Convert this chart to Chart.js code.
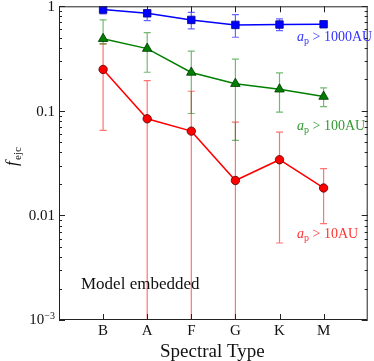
<!DOCTYPE html>
<html>
<head>
<meta charset="utf-8">
<script src="https://cdn.jsdelivr.net/npm/chart.js@4.4.0/dist/chart.umd.min.js"></script>
<style>
  html, body { margin: 0; padding: 0; background: #fff; }
  #wrap { width: 374px; height: 361px; }
</style>
</head>
<body>
<div id="wrap"><canvas id="myChart" width="374" height="361"></canvas></div>
<script>
// spectral types on the x axis
const types = ["B", "A", "F", "G", "K", "M"];
const yTicks = [1, 0.1, 0.01, 0.001];

// a_p > 1000 AU
const far = [0.93, 0.857, 0.741, 0.664, 0.669, 0.673];
const farHi = [0.978, 0.91, 0.876, 0.833, 0.758, 0.69];
const farLo = [0.846, 0.73, 0.608, 0.506, 0.586, 0.66];

// a_p > 100 AU
const mid = [0.489, 0.394, 0.233, 0.182, 0.161, 0.137];
const midHi = [0.741, 0.561, 0.372, 0.312, 0.231, 0.166];
const midLo = [0.437, 0.234, 0.0944, 0.0522, 0.0972, 0.110];

// a_p > 10 AU
const near = [0.249, 0.084, 0.064, 0.0216, 0.0341, 0.0183];
const nearHi = [0.437, 0.195, 0.154, 0.078, 0.0626, 0.028];
const nearLo = [0.065, 0.0001, 0.0001, 0.0001, 0.00545, 0.00835];

const serif = "'Liberation Serif', 'DejaVu Serif', serif";

const series = [
  { vals: far, hi: farHi, lo: farLo, color: "#0000ff", bar: "rgba(0,0,255,0.6)", shape: "rect", r: 5.3, edge: "#00008b", name: "1000AU" },
  { vals: mid, hi: midHi, lo: midLo, color: "#008000", bar: "rgba(0,128,0,0.55)", shape: "triangle", r: 5.5, edge: "#003300", name: "100AU" },
  { vals: near, hi: nearHi, lo: nearLo, color: "#ff0000", bar: "rgba(255,0,0,0.55)", shape: "circle", r: 4.2, edge: "#550000", name: "10AU" }
];

function apLabel(ctx, x, y, txt, color) {
  ctx.fillStyle = color;
  ctx.textBaseline = "alphabetic";
  ctx.textAlign = "left";
  ctx.font = "italic 14px " + serif;
  ctx.fillText("a", x, y);
  let w = ctx.measureText("a").width;
  ctx.font = "10px " + serif;
  ctx.fillText("p", x + w, y + 3);
  w += ctx.measureText("p").width;
  ctx.font = "14px " + serif;
  ctx.fillText(" > " + txt, x + w, y);
}

const plot = {
  id: "plot",
  beforeDatasetsDraw(chart) {
    const { ctx, scales: { x, y }, chartArea: a } = chart;
    ctx.save();
    ctx.beginPath();
    ctx.rect(a.left, a.top, a.right - a.left, a.bottom - a.top);
    ctx.clip();
    // error bars
    series.slice().reverse().forEach(s => {
      ctx.strokeStyle = s.bar;
      ctx.lineWidth = 1.2;
      s.vals.forEach((v, i) => {
        const px = x.getPixelForValue(i);
        const top = y.getPixelForValue(s.hi[i]);
        const bot = y.getPixelForValue(s.lo[i]);
        ctx.beginPath();
        ctx.moveTo(px, top); ctx.lineTo(px, bot);
        ctx.moveTo(px - 3.5, top); ctx.lineTo(px + 3.5, top);
        ctx.moveTo(px - 3.5, bot); ctx.lineTo(px + 3.5, bot);
        ctx.stroke();
      });
    });
    ctx.restore();
  },
  afterDatasetsDraw(chart) {
    const { ctx, scales: { x, y }, chartArea: a } = chart;
    ctx.save();
    // frame
    ctx.strokeStyle = "#222";
    ctx.lineWidth = 1;
    ctx.strokeRect(a.left + 0.5, a.top + 0.5, a.right - a.left - 1, a.bottom - a.top - 1);
    // inside ticks
    ctx.beginPath();
    types.forEach((t, i) => {
      const px = Math.round(x.getPixelForValue(i)) + 0.5;
      ctx.moveTo(px, a.bottom); ctx.lineTo(px, a.bottom - 6);
      ctx.moveTo(px, a.top); ctx.lineTo(px, a.top + 6);
    });
    for (let e = -3; e <= 0; e++) {
      for (let m = 1; m <= 9; m++) {
        const v = m * Math.pow(10, e);
        if (v > 1.0001) continue;
        const py = Math.round(y.getPixelForValue(v)) + 0.5;
        const len = m === 1 ? 6 : 3;
        ctx.moveTo(a.left, py); ctx.lineTo(a.left + len, py);
        ctx.moveTo(a.right, py); ctx.lineTo(a.right - len, py);
      }
    }
    ctx.stroke();

    // tick labels
    ctx.fillStyle = "#111";
    ctx.font = "15px " + serif;
    ctx.textAlign = "center";
    ctx.textBaseline = "alphabetic";
    types.forEach((t, i) => ctx.fillText(t, x.getPixelForValue(i), 335));
    ctx.textAlign = "right";
    yTicks.forEach(v => {
      const py = y.getPixelForValue(v);
      if (v === 0.001) {
        ctx.font = "10px " + serif;
        ctx.fillText("\u22123", a.left - 4, py - 1);
        const w = ctx.measureText("\u22123").width;
        ctx.font = "15px " + serif;
        ctx.fillText("10", a.left - 4 - w, py + 4);
      } else {
        ctx.fillText(String(v), a.left - 4, py + 5);
      }
    });

    // axis titles
    ctx.textAlign = "center";
    ctx.font = "19px " + serif;
    ctx.fillText("Spectral Type", (a.left + a.right) / 2 - 1, 357);
    ctx.save();
    ctx.translate(17, 157);
    ctx.rotate(-Math.PI / 2);
    ctx.textAlign = "left";
    ctx.font = "italic 17px " + serif;
    ctx.fillText("f", -9, 0);
    ctx.font = "11px " + serif;
    ctx.fillText("ejc", -3, 4);
    ctx.restore();

    // annotations
    apLabel(ctx, 297, 41, "1000AU", "#3333ff");
    apLabel(ctx, 297, 130, "100AU", "#339933");
    apLabel(ctx, 297, 238, "10AU", "#ff3333");
    ctx.fillStyle = "#111";
    ctx.textAlign = "left";
    ctx.font = "17px " + serif;
    ctx.fillText("Model embedded", 81, 289);
    ctx.restore();
  }
};

const ctx = document.getElementById("myChart").getContext("2d");
new Chart(ctx, {
  type: "line",
  data: {
    datasets: series.map(s => ({
      data: s.vals.map((v, i) => ({ x: i, y: v })),
      borderColor: s.color,
      backgroundColor: s.color,
      pointBorderColor: s.edge,
      pointBorderWidth: 0.8,
      pointStyle: s.shape,
      pointRadius: s.r,
      borderWidth: 1.5,
      tension: 0,
      fill: false
    }))
  },
  options: {
    responsive: false,
    animation: false,
    events: [],
    layout: { padding: { top: 6, right: 2, left: 0, bottom: 0 } },
    plugins: { legend: { display: false }, tooltip: { enabled: false } },
    scales: {
      x: {
        type: "linear", min: -1, max: 6,
        grid: { display: false }, border: { display: false },
        ticks: { display: false, stepSize: 1 },
        afterFit: s => { s.height = 41; }
      },
      y: {
        type: "logarithmic", min: 0.001, max: 1,
        grid: { display: false }, border: { display: false },
        ticks: { display: false },
        afterFit: s => { s.width = 59; }
      }
    }
  },
  plugins: [plot]
});
</script>
</body>
</html>
